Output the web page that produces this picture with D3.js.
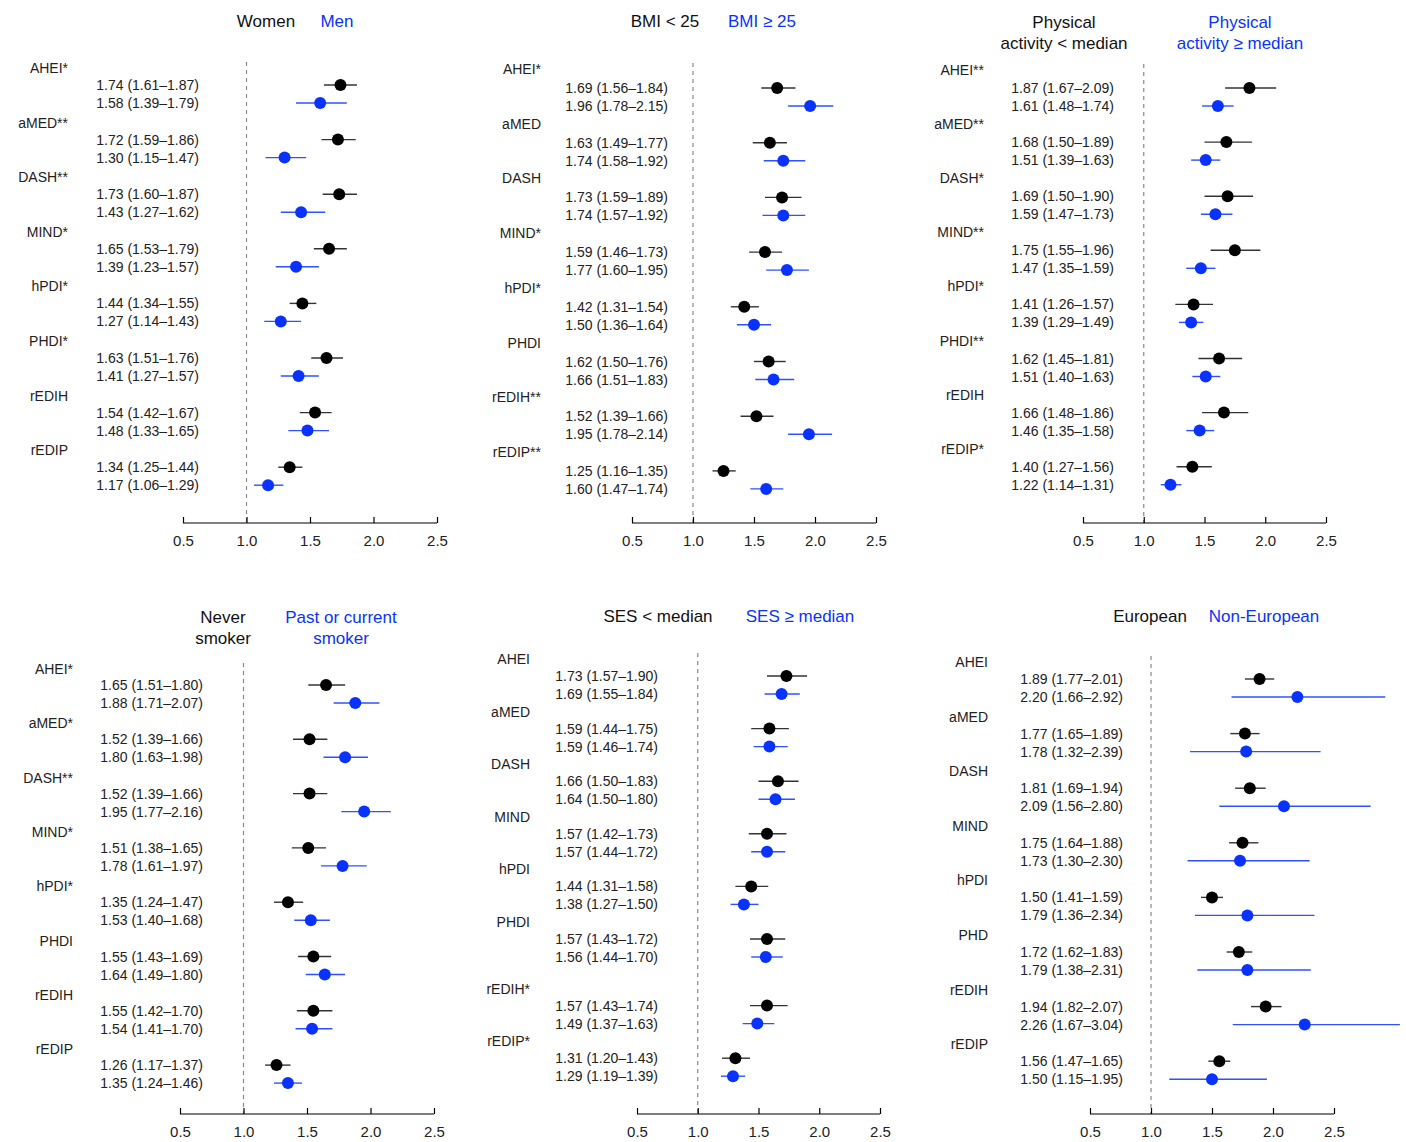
<!DOCTYPE html>
<html>
<head>
<meta charset="utf-8">
<script src="https://cdn.jsdelivr.net/npm/d3@7"></script>
<style>
  body { margin: 0; background: #fff; }
  text { font-family: "Liberation Sans", Arial, sans-serif; }
</style>
</head>
<body>
<div id="chart"></div>
<script>
// ---- data: odds ratios (95% CI) per diet score, two strata per panel ----
const sexLabels = ["AHEI*", "aMED**", "DASH**", "MIND*", "hPDI*", "PHDI*", "rEDIH", "rEDIP"];
const womenEst = [1.74, 1.72, 1.73, 1.65, 1.44, 1.63, 1.54, 1.34];
const womenLo  = [1.61, 1.59, 1.60, 1.53, 1.34, 1.51, 1.42, 1.25];
const womenHi  = [1.87, 1.86, 1.87, 1.79, 1.55, 1.76, 1.67, 1.44];
const menEst   = [1.58, 1.30, 1.43, 1.39, 1.27, 1.41, 1.48, 1.17];
const menLo    = [1.39, 1.15, 1.27, 1.23, 1.14, 1.27, 1.33, 1.06];
const menHi    = [1.79, 1.47, 1.62, 1.57, 1.43, 1.57, 1.65, 1.29];

const bmiLabels = ["AHEI*", "aMED", "DASH", "MIND*", "hPDI*", "PHDI", "rEDIH**", "rEDIP**"];
const bmiLowEst  = [1.69, 1.63, 1.73, 1.59, 1.42, 1.62, 1.52, 1.25];
const bmiLowLo   = [1.56, 1.49, 1.59, 1.46, 1.31, 1.50, 1.39, 1.16];
const bmiLowHi   = [1.84, 1.77, 1.89, 1.73, 1.54, 1.76, 1.66, 1.35];
const bmiHighEst = [1.96, 1.74, 1.74, 1.77, 1.50, 1.66, 1.95, 1.60];
const bmiHighLo  = [1.78, 1.58, 1.57, 1.60, 1.36, 1.51, 1.78, 1.47];
const bmiHighHi  = [2.15, 1.92, 1.92, 1.95, 1.64, 1.83, 2.14, 1.74];

const paLabels = ["AHEI**", "aMED**", "DASH*", "MIND**", "hPDI*", "PHDI**", "rEDIH", "rEDIP*"];
const paLowEst  = [1.87, 1.68, 1.69, 1.75, 1.41, 1.62, 1.66, 1.40];
const paLowLo   = [1.67, 1.50, 1.50, 1.55, 1.26, 1.45, 1.48, 1.27];
const paLowHi   = [2.09, 1.89, 1.90, 1.96, 1.57, 1.81, 1.86, 1.56];
const paHighEst = [1.61, 1.51, 1.59, 1.47, 1.39, 1.51, 1.46, 1.22];
const paHighLo  = [1.48, 1.39, 1.47, 1.35, 1.29, 1.40, 1.35, 1.14];
const paHighHi  = [1.74, 1.63, 1.73, 1.59, 1.49, 1.63, 1.58, 1.31];

const smokeLabels = ["AHEI*", "aMED*", "DASH**", "MIND*", "hPDI*", "PHDI", "rEDIH", "rEDIP"];
const neverEst = [1.65, 1.52, 1.52, 1.51, 1.35, 1.55, 1.55, 1.26];
const neverLo  = [1.51, 1.39, 1.39, 1.38, 1.24, 1.43, 1.42, 1.17];
const neverHi  = [1.80, 1.66, 1.66, 1.65, 1.47, 1.69, 1.70, 1.37];
const pastEst  = [1.88, 1.80, 1.95, 1.78, 1.53, 1.64, 1.54, 1.35];
const pastLo   = [1.71, 1.63, 1.77, 1.61, 1.40, 1.49, 1.41, 1.24];
const pastHi   = [2.07, 1.98, 2.16, 1.97, 1.68, 1.80, 1.70, 1.46];

const sesLabels = ["AHEI", "aMED", "DASH", "MIND", "hPDI", "PHDI", "rEDIH*", "rEDIP*"];
const sesLowEst  = [1.73, 1.59, 1.66, 1.57, 1.44, 1.57, 1.57, 1.31];
const sesLowLo   = [1.57, 1.44, 1.50, 1.42, 1.31, 1.43, 1.43, 1.20];
const sesLowHi   = [1.90, 1.75, 1.83, 1.73, 1.58, 1.72, 1.74, 1.43];
const sesHighEst = [1.69, 1.59, 1.64, 1.57, 1.38, 1.56, 1.49, 1.29];
const sesHighLo  = [1.55, 1.46, 1.50, 1.44, 1.27, 1.44, 1.37, 1.19];
const sesHighHi  = [1.84, 1.74, 1.80, 1.72, 1.50, 1.70, 1.63, 1.39];

const ancLabels = ["AHEI", "aMED", "DASH", "MIND", "hPDI", "PHD", "rEDIH", "rEDIP"];
const euroEst    = [1.89, 1.77, 1.81, 1.75, 1.50, 1.72, 1.94, 1.56];
const euroLo     = [1.77, 1.65, 1.69, 1.64, 1.41, 1.62, 1.82, 1.47];
const euroHi     = [2.01, 1.89, 1.94, 1.88, 1.59, 1.83, 2.07, 1.65];
const nonEuroEst = [2.20, 1.78, 2.09, 1.73, 1.79, 1.79, 2.26, 1.50];
const nonEuroLo  = [1.66, 1.32, 1.56, 1.30, 1.36, 1.38, 1.67, 1.15];
const nonEuroHi  = [2.92, 2.39, 2.80, 2.30, 2.34, 2.31, 3.04, 1.95];

const xTicks = [0.5, 1.0, 1.5, 2.0, 2.5];

const BLACK = "#000";
const BLUE = "#0a32ff";

// panel layout (pixel placement only)
const panels = [
  { labels: sexLabels, titles: [["Women"], ["Men"]], titleX: [266, 337], titleY: 21,
    a: [womenEst, womenLo, womenHi], b: [menEst, menLo, menHi],
    x0: 183, x1: 437, catX: 68, valX: 199, top: 68, step: 54.6, off: [17, 35], axisY: 523 },
  { labels: bmiLabels, titles: [["BMI < 25"], ["BMI \u2265 25"]], titleX: [665, 762], titleY: 21,
    a: [bmiLowEst, bmiLowLo, bmiLowHi], b: [bmiHighEst, bmiHighLo, bmiHighHi],
    x0: 632, x1: 876, catX: 541, valX: 668, top: 69, step: 54.7, off: [19, 37], axisY: 523 },
  { labels: paLabels, titles: [["Physical", "activity < median"], ["Physical", "activity \u2265 median"]],
    titleX: [1064, 1240], titleY: 22,
    a: [paLowEst, paLowLo, paLowHi], b: [paHighEst, paHighLo, paHighHi],
    x0: 1083, x1: 1326, catX: 984, valX: 1114, top: 70, step: 54.1, off: [18, 36], axisY: 523 },
  { labels: smokeLabels, titles: [["Never", "smoker"], ["Past or current", "smoker"]],
    titleX: [223, 341], titleY: 617,
    a: [neverEst, neverLo, neverHi], b: [pastEst, pastLo, pastHi],
    x0: 180, x1: 434, catX: 73, valX: 203, top: 669, step: 54.3, off: [16, 34], axisY: 1114 },
  { labels: sesLabels, titles: [["SES < median"], ["SES \u2265 median"]], titleX: [658, 800], titleY: 616,
    a: [sesLowEst, sesLowLo, sesLowHi], b: [sesHighEst, sesHighLo, sesHighHi],
    x0: 637, x1: 880, catX: 530, valX: 658, top: 659, step: 52.6, gapAt: 6, gap: 14, off: [17, 35], axisY: 1114 },
  { labels: ancLabels, titles: [["European"], ["Non-European"]], titleX: [1150, 1264], titleY: 616,
    a: [euroEst, euroLo, euroHi], b: [nonEuroEst, nonEuroLo, nonEuroHi],
    x0: 1090, x1: 1334, catX: 988, valX: 1123, top: 662, step: 54.6, off: [17, 35], axisY: 1114 }
];

const svg = d3.select("#chart").append("svg")
  .attr("width", 1406)
  .attr("height", 1142);

const fmt = d3.format(".2f");

panels.forEach(p => {
  const g = svg.append("g");

  const x = d3.scaleLinear().domain([0.5, 2.5]).range([p.x0, p.x1]);
  // group position: uniform step, with an optional extra gap
  const yCat = i => p.top + i * p.step + (p.gapAt !== undefined && i >= p.gapAt ? p.gap : 0);

  // titles
  p.titles.forEach((lines, k) => {
    lines.forEach((line, j) => {
      g.append("text")
        .attr("x", p.titleX[k])
        .attr("y", p.titleY + j * 21)
        .attr("text-anchor", "middle")
        .attr("dominant-baseline", "central")
        .style("font-size", "17px")
        .style("fill", k === 0 ? "#111" : BLUE)
        .text(line);
    });
  });

  // reference line at OR = 1
  g.append("line")
    .attr("x1", x(1)).attr("x2", x(1))
    .attr("y1", yCat(0) - 6).attr("y2", p.axisY)
    .attr("stroke", "#888")
    .attr("stroke-width", 1.2)
    .attr("stroke-dasharray", "4,4");

  // axis
  const axis = g.append("g")
    .attr("transform", `translate(0,${p.axisY})`)
    .call(d3.axisTop(x).tickValues(xTicks).tickSize(6).tickFormat(d3.format(".1f")));
  axis.select(".domain").attr("d", `M${p.x0},0H${p.x1}`).attr("stroke-width", 1.2);
  axis.selectAll(".tick line").attr("stroke-width", 1.2);
  axis.selectAll(".tick text")
    .attr("y", 18)
    .attr("dy", "0.35em")
    .style("font-size", "15px")
    .style("font-family", "Liberation Sans, Arial, sans-serif")
    .style("fill", "#222");

  const rows = p.labels.map((lab, i) => ({
    lab, i,
    a: { est: p.a[0][i], lo: p.a[1][i], hi: p.a[2][i] },
    b: { est: p.b[0][i], lo: p.b[1][i], hi: p.b[2][i] }
  }));

  // category labels
  g.selectAll(".cat").data(rows).enter()
    .append("text")
    .attr("class", "cat")
    .attr("x", p.catX)
    .attr("y", d => yCat(d.i))
    .attr("text-anchor", "end")
    .attr("dominant-baseline", "central")
    .style("font-size", "14px")
    .style("fill", "#222")
    .text(d => d.lab);

  [["a", 0, BLACK], ["b", 1, BLUE]].forEach(([key, k, col]) => {
    const yRow = d => yCat(d.i) + p.off[k];

    // value labels
    g.selectAll(".val" + key).data(rows).enter()
      .append("text")
      .attr("x", p.valX)
      .attr("y", yRow)
      .attr("text-anchor", "end")
      .attr("dominant-baseline", "central")
      .style("font-size", "14px")
      .style("fill", "#222")
      .text(d => `${fmt(d[key].est)} (${fmt(d[key].lo)}\u2013${fmt(d[key].hi)})`);

    // confidence intervals
    g.selectAll(".ci" + key).data(rows).enter()
      .append("line")
      .attr("x1", d => x(d[key].lo))
      .attr("x2", d => x(d[key].hi))
      .attr("y1", yRow)
      .attr("y2", yRow)
      .attr("stroke", col)
      .attr("stroke-opacity", k === 0 ? 0.8 : 0.85)
      .attr("stroke-width", 1.4);

    // point estimates
    g.selectAll(".pt" + key).data(rows).enter()
      .append("circle")
      .attr("cx", d => x(d[key].est))
      .attr("cy", yRow)
      .attr("r", 6)
      .attr("fill", col);
  });
});
</script>
</body>
</html>
